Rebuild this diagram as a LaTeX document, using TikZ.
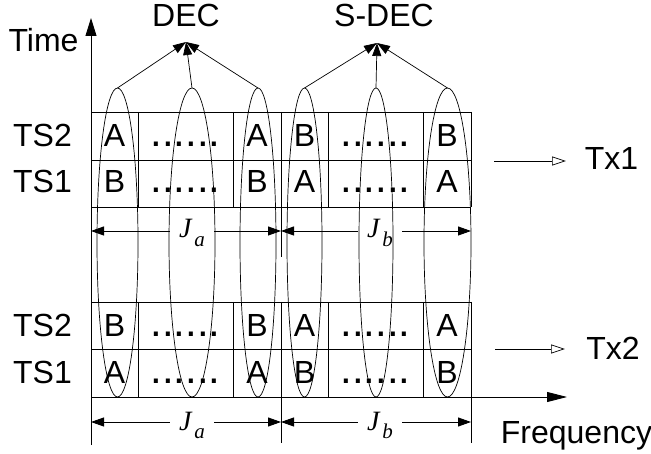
\documentclass[tikz,border=0pt]{standalone}
\usepackage{fontspec}
\setmainfont{Liberation Sans}
\newfontfamily\jfont{Liberation Serif}
\usetikzlibrary{arrows.meta,shapes.geometric,calc}
\newcommand{\Jsub}[1]{{\jfont\itshape\fontsize{28}{28}\selectfont J}\kern3pt\raisebox{-9pt}{\jfont\itshape\fontsize{21}{21}\selectfont #1}}

\begin{document}
\begin{tikzpicture}[x=1pt,y=-1pt,font=\fontsize{32}{32}\selectfont,line width=0.9pt,
  >={Triangle[length=13pt,width=9pt]},
  ell/.style={draw,ellipse,line width=0.7pt,inner sep=0pt,outer sep=0pt,minimum height=309pt},
  lab/.style={inner sep=0pt,anchor=base},
  dotrow/.style={inner sep=0pt,anchor=base,font=\fontsize{42}{42}\selectfont},
  jlab/.style={inner xsep=9pt,inner ysep=0pt,anchor=base},
  tx/.style={-{Triangle[open,length=14pt,width=9pt]},line width=0.7pt}]
\useasboundingbox (0,0) rectangle (651,454);
% grid of the two frames
\foreach \y in {112,160,207,302,349} \draw (91,\y) -- (471,\y);
\foreach \x in {138,233,281,328,423,471} {\draw (\x,112) -- (\x,207); \draw (\x,302) -- (\x,397);}
\draw (281,207) -- (281,257); \draw (281,397) -- (281,443); \draw (471,397) -- (471,443);
% axes
\coordinate (o) at (91,445); \coordinate (tt) at (91,18);
\coordinate (f0) at (91,397); \coordinate (ft) at (567,397);
\draw[-{Triangle[length=18pt,width=11pt]}] (o) -- (tt);
\draw[-{Triangle[length=20pt,width=10pt]}] (f0) -- (ft);
\node[lab] (time) at (43.5,52) {Time};
\node[lab] (freq) at (576.5,443) {Frequency};
% slot labels and symbols
\foreach \y/\t/\l/\r [count=\i] in {146.5/TS2/A/B,193/TS1/B/A,336.5/TS2/B/A,383.5/TS1/A/B} {
  \node[lab] (ts\i) at (42.5,\y) {\t};
  \node[lab] (s\i a) at (114.5,\y) {\l}; \node[lab] (s\i b) at (257,\y) {\l};
  \node[lab] (s\i c) at (304.5,\y) {\r}; \node[lab] (s\i d) at (447,\y) {\r};
  \node[dotrow] (d\i l) at (185.5,\y) {......}; \node[dotrow] (d\i r) at (375.5,\y) {......};
}
% decoding groups
\foreach \x/\w [count=\i] in {117.5/41,192/46,258/36,304.5/35,376/34,447.5/47}
  \node[ell,minimum width=\w pt] (e\i) at (\x,242.5) {};
\coordinate (dec) at (186,42); \coordinate (sdec) at (377,43);
\node[lab] (declab) at (186,27) {DEC};
\node[lab] (sdeclab) at (384,27) {S-DEC};
\foreach \i in {1,2,3} \draw[->,line width=0.7pt] (e\i.north) -- (dec);
\foreach \i in {4,5,6} \draw[->,line width=0.7pt] (e\i.north) -- (sdec);
% transmitters
\coordinate (tx1s) at (494,161); \coordinate (tx1e) at (566,161);
\coordinate (tx2s) at (495,349); \coordinate (tx2e) at (565,349);
\node[lab] (tx1) at (611.5,170) {Tx1};
\node[lab] (tx2) at (613,360) {Tx2};
\draw[tx] (tx1s) -- (tx1e); \draw[tx] (tx2s) -- (tx2e);
% spans J_a, J_b
\coordinate (m0) at (91,231); \coordinate (m1) at (281,231); \coordinate (m2) at (471,231);
\coordinate (b0) at (91,422); \coordinate (b1) at (281,422); \coordinate (b2) at (471,422);
\node[jlab] (jam) at (192,238) {\Jsub{a}};
\node[jlab] (jbm) at (380,238) {\Jsub{b}};
\node[jlab] (jab) at (192,430) {\Jsub{a}};
\node[jlab] (jbb) at (380,430) {\Jsub{b}};
\draw[->] (jam.west |- m0) -- (m0); \draw[->] (jam.east |- m0) -- (m1);
\draw[->] (jbm.west |- m0) -- (m1); \draw[->] (jbm.east |- m0) -- (m2);
\draw[->] (jab.west |- b0) -- (b0); \draw[->] (jab.east |- b0) -- (b1);
\draw[->] (jbb.west |- b0) -- (b1); \draw[->] (jbb.east |- b0) -- (b2);
\end{tikzpicture}
\end{document}
